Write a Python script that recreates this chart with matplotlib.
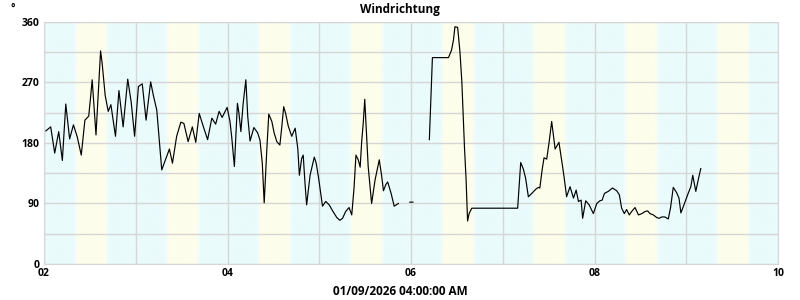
import numpy as np
import pandas as pd
import matplotlib
matplotlib.use("Agg")
import matplotlib.pyplot as plt
import matplotlib.dates as mdates
from matplotlib.colors import LinearSegmentedColormap

# wind direction readings, hours after 02.01.2026 00:00 (NaN = gap in data)
hours = [
    0.5, 1.75, 2.8, 3.85, 4.8, 5.7, 5.95, 6.7, 7.7, 8.7, 9.75, 10.7, 11.7, 12.2, 12.6,
    13.6, 14.1, 14.8, 15.2, 16.0, 16.8, 17.5, 18.7, 19.6, 20.7, 21.9, 22.8, 23.7,
    24.7, 25.7, 26.7, 27.9, 28.6, 29.5, 30.8, 31.9, 32.8, 33.6, 34.7, 35.8, 36.6,
    37.7, 38.8, 39.7, 40.6, 41.7, 42.8, 43.9, 44.9, 45.8, 46.6, 47.9, 48.65, 49.1,
    49.8, 50.6, 51.0, 51.5, 52.1, 52.8, 53.3, 53.9, 54.9, 55.9, 56.5, 57.1, 57.6,
    58.3, 58.8, 59.6, 60.2, 60.9, 61.7, 62.2, 62.7, 63.2, 63.9, 64.8, 65.7, 66.4,
    66.8, 67.4, 67.8, 68.3, 68.7, 69.6, 70.7, 71.2, 71.8, 72.85, 73.7, 74.6, 75.5,
    76.6, 77.4, 78.1, 78.9, 79.8, 80.5, 81.1, 81.6, 82.2, 82.7, 83.1, 83.5, 83.9,
    84.2, 84.8, 85.7, 86.6, 87.2, 87.7, 88.3, 88.8, 89.4, 89.9, 90.8, 91.6, 92.7,
    94.0,
    95.7, 96.5,
    98.5,
    100.8, 101.2, 101.6, 105.8, 106.6, 107.1, 107.5, 108.2, 108.8, 109.3, 110.0,
    110.4, 110.8, 111.2, 111.9, 123.9, 124.1, 124.7, 125.4, 126.0, 126.7, 127.6,
    128.6, 129.3, 129.7, 130.3, 130.8, 131.5, 132.1, 132.8, 133.7, 134.7, 135.6,
    136.1, 136.7, 137.6, 138.5, 139.2, 139.8, 140.5, 140.9, 141.7, 142.6, 143.7,
    144.6, 145.4, 146.0, 146.6, 147.6, 148.7, 149.8, 150.5, 151.1, 151.8, 152.4,
    153.1, 153.7, 154.6, 155.5, 156.4, 157.2, 157.9, 158.5, 159.4, 160.3, 160.9,
    161.6, 162.4, 163.3, 163.9, 164.6, 165.5, 166.1, 166.6, 167.4, 168.5, 169.2,
    169.7, 170.5, 171.2, 171.8,
]
direction = [
    198, 204, 165, 197, 154, 238, 225, 186, 207, 189, 162, 214, 220, 249, 274,
    192, 244, 317, 299, 251, 227, 237, 190, 258, 204, 275, 241, 190,
    264, 268, 214, 271, 251, 229, 140, 157, 171, 150, 190, 211, 209,
    182, 204, 181, 224, 204, 185, 217, 208, 227, 218, 233, 212, 189,
    145, 239, 224, 197, 239, 274, 219, 183, 203, 195, 184, 150, 91,
    172, 223, 212, 195, 182, 177, 204, 234, 224, 205, 190, 202, 171,
    132, 157, 162, 118, 88, 132, 159, 150, 129, 86, 93, 88, 79,
    69, 65, 68, 78, 84, 73, 113, 162, 155, 144, 182, 209, 245,
    212, 145, 90, 125, 141, 155, 132, 109, 118, 122, 105, 86, 90,
    np.nan,
    92, 92,
    np.nan,
    185, 246, 307, 307, 318, 333, 353, 352, 316, 271, 172,
    127, 64, 75, 83, 83, 100, 151, 141, 127, 100, 105,
    111, 114, 113, 140, 158, 156, 180, 212, 171, 181, 147,
    127, 100, 115, 98, 110, 93, 95, 68, 94, 88, 75,
    90, 94, 95, 105, 108, 113, 109, 103, 83, 75, 81,
    73, 78, 84, 73, 75, 78, 79, 75, 73, 69, 68,
    70, 70, 67, 84, 114, 106, 98, 76, 88, 105, 115,
    132, 108, 127, 142,
]

start = pd.Timestamp("2026-01-02")
end = pd.Timestamp("2026-01-10")
times = start + pd.to_timedelta(hours, unit="h")

plt.rcParams["font.family"] = ["Open Sans", "DejaVu Sans"]

fig = plt.figure(figsize=(8, 3), dpi=100)
ax = fig.add_axes([0.055, 0.12, 0.9175, 0.8067])

# day / night background: cyan at night, pale yellow around midday
t0 = mdates.date2num(start)
t1 = mdates.date2num(end)
xs = np.linspace(0, 8 * 24, 2000)
hod = xs % 24
w = np.clip(np.minimum(hod - 7.6, 17.0 - hod) / 1.2, 0, 1)
cmap = LinearSegmentedColormap.from_list(
    "daynight", ["#eafbfc", "#f6fdf6", "#fdfeeb"])
ax.imshow(w[np.newaxis, :], aspect="auto", cmap=cmap, vmin=0, vmax=1,
          extent=[t0, t1, 0, 360], zorder=0, interpolation="bilinear")

ax.plot(times, direction, color="black", lw=0.85, zorder=3)

ax.set_xlim(t0, t1)
ax.set_ylim(0, 360)
ax.xaxis.set_major_locator(mdates.DayLocator(interval=2))
ax.xaxis.set_minor_locator(mdates.DayLocator())
ax.xaxis.set_major_formatter(mdates.DateFormatter("%d"))
ax.set_yticks([0, 90, 180, 270, 360])
ax.set_yticks(np.arange(0, 361, 45), minor=True)

ax.grid(True, which="both", color="#d6d6d6", lw=1.0, zorder=1)
ax.set_axisbelow(False)
for s in ax.spines.values():
    s.set_color("#d6d6d6")
ax.tick_params(which="both", length=0)
ax.tick_params(axis="both", labelsize=7.5, pad=3)
for lab in ax.get_xticklabels() + ax.get_yticklabels():
    lab.set_fontweight("bold")

fig.text(0.5, 0.99, "Windrichtung", ha="center", va="top",
         fontsize=8.5, fontweight="bold")
fig.text(0.013, 0.99, "°", ha="left", va="top", fontsize=7.5, fontweight="bold")
fig.text(0.5, 0.027, "01/09/2026 04:00:00 AM", ha="center", va="center",
         fontsize=8.5, fontweight="bold")

fig.savefig("out.png", dpi=100)
